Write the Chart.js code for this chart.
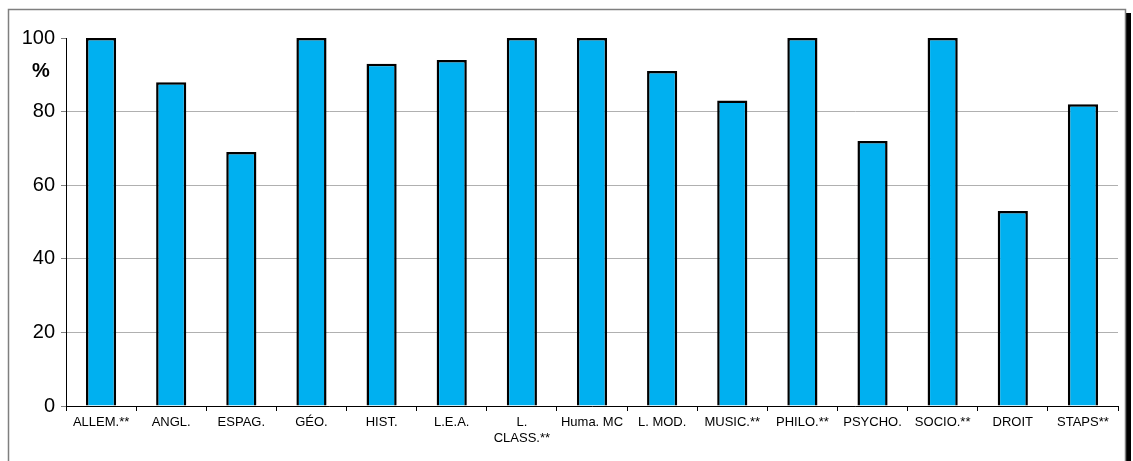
<!DOCTYPE html>
<html>
<head>
<meta charset="utf-8">
<script src="https://cdn.jsdelivr.net/npm/chart.js@4/dist/chart.umd.min.js"></script>
<style>
  html, body { margin: 0; padding: 0; background: #fff; }
  #wrap { position: relative; width: 1133px; height: 461px; }
</style>
</head>
<body>
<div id="wrap"><canvas id="myChart" width="1133" height="461"></canvas></div>
<script>
const categories = [
  'ALLEM.**', 'ANGL.', 'ESPAG.', 'GÉO.', 'HIST.', 'L.E.A.', ['L.', 'CLASS.**'],
  'Huma. MC', 'L. MOD.', 'MUSIC.**', 'PHILO.**', 'PSYCHO.', 'SOCIO.**', 'DROIT', 'STAPS**',
];
const percentages = [100, 88, 69, 100, 93, 94, 100, 100, 91, 83, 100, 72, 100, 53, 82];
const yTicks = [0, 20, 40, 60, 80, 100];
const yUnit = '%';

// frame with black shadow on the right, and the "%" unit under 100
const framePlugin = {
  id: 'frame',
  beforeDraw(chart) {
    const ctx = chart.ctx;
    ctx.save();
    ctx.fillStyle = '#000';
    ctx.fillRect(1126, 13, 5, 470);
    ctx.strokeStyle = '#7f7f7f';
    ctx.lineWidth = 1.5;
    ctx.strokeRect(8.5, 9.5, 1117, 480);
    ctx.restore();
  },
  afterDraw(chart) {
    const ctx = chart.ctx;
    const y = chart.scales.y.getPixelForValue(91);
    ctx.save();
    ctx.fillStyle = '#000';
    ctx.font = 'bold 20px "Liberation Sans", Arial, sans-serif';
    ctx.textAlign = 'center';
    ctx.textBaseline = 'middle';
    ctx.fillText(yUnit, 41, y);
    ctx.restore();
  },
};

const ctx = document.getElementById('myChart').getContext('2d');
new Chart(ctx, {
  type: 'bar',
  data: {
    labels: categories,
    datasets: [
      {
        data: percentages,
        backgroundColor: '#00B0F0',
        borderColor: '#000',
        borderWidth: 2.5,
        borderSkipped: 'bottom',
        barPercentage: 0.43,
        categoryPercentage: 1,
      },
    ],
  },
  options: {
    responsive: false,
    animation: false,
    layout: { padding: { left: 0, top: 38, right: 15, bottom: 0 } },
    plugins: {
      legend: { display: false },
      tooltip: { enabled: false },
    },
    scales: {
      x: {
        afterFit: (scale) => { scale.height = 55; },
        grid: {
          offset: true,
          drawOnChartArea: false,
          tickLength: 5,
          tickColor: '#000',
        },
        border: { color: '#000', width: 1 },
        ticks: {
          autoSkip: false,
          maxRotation: 0,
          padding: 4,
          color: '#000',
          font: { family: '"Liberation Sans", Arial, sans-serif', size: 13 },
        },
      },
      y: {
        min: 0,
        max: 100,
        afterFit: (scale) => { scale.width = 66; },
        afterBuildTicks: (scale) => { scale.ticks = yTicks.map((v) => ({ value: v })); },
        grid: {
          color: (c) => (c.tick && c.tick.value === 100 ? 'rgba(0,0,0,0)' : '#b0b0b0'),
          tickColor: '#808080',
          tickLength: 5,
          lineWidth: 1,
        },
        border: { color: '#000', width: 1 },
        ticks: {
          padding: 6,
          color: '#000',
          font: { family: '"Liberation Sans", Arial, sans-serif', size: 20 },
        },
      },
    },
  },
  plugins: [framePlugin],
});
</script>
</body>
</html>
